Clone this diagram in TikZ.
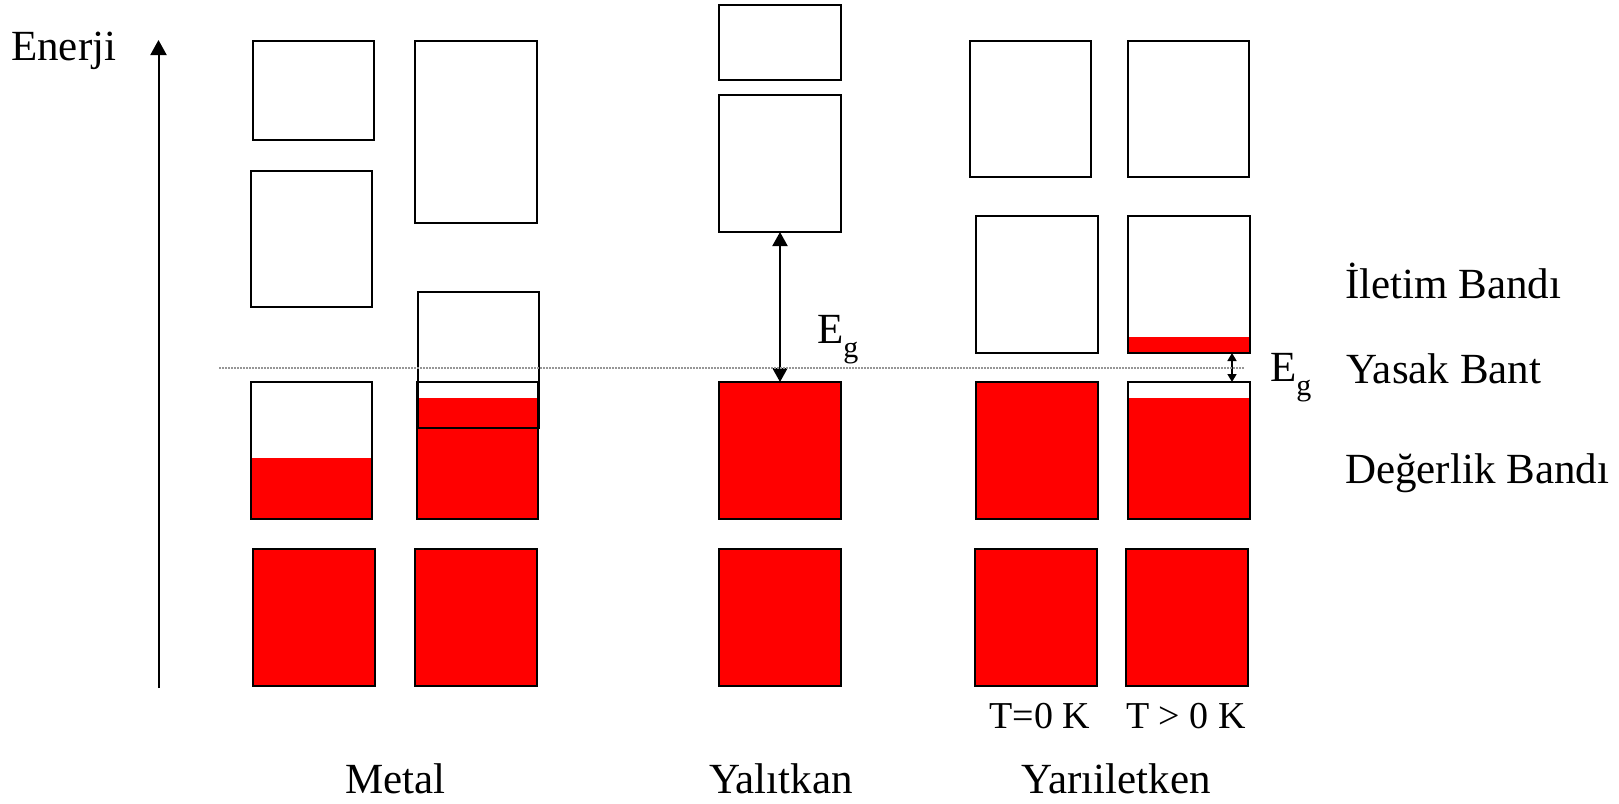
\documentclass[tikz,border=0pt]{standalone}
\usepackage{fontspec}
\setmainfont{Liberation Serif}
\usetikzlibrary{arrows.meta}
\definecolor{bandred}{RGB}{255,0,0}
\definecolor{dotgray}{RGB}{150,150,150}
\begin{document}
\begin{tikzpicture}[x=1pt,y=-1pt,
  band/.style={draw=black, line width=2pt, inner sep=0pt, outer sep=0pt},
  full/.style={band, fill=bandred},
  part/.style={band, path picture={\fill[bandred] (path picture bounding box.south west) rectangle ([yshift=#1]path picture bounding box.south east);}},
  lab/.style={inner sep=0pt, font=\fontsize{43}{45}\selectfont},
  botlab/.style={lab, text depth=0pt, text height=29pt},
  tlab/.style={inner sep=0pt, font=\fontsize{38}{40}\selectfont},
  bigarrow/.style={line width=2pt, {Triangle[width=15pt,length=14pt]}-{Triangle[width=15pt,length=14pt]}},
  smallarrow/.style={line width=1.6pt, {Triangle[width=9pt,length=8pt]}-{Triangle[width=9pt,length=8pt]}},
  axisarrow/.style={line width=2pt, -{Triangle[width=16pt,length=15pt]}},
  fermi/.style={draw=dotgray, line width=1.5pt, dash pattern=on 1.5pt off 1.5pt}
]
\useasboundingbox (0,0) rectangle (1619,803);

% energy axis
\coordinate (ax0) at (158.5,688);
\coordinate (ax1) at (158.5,40);
\draw[axisarrow] (ax0) -- (ax1);
\node[lab, anchor=base west] (enerji) at (11,60) {Enerji};

% Metal
\node[band, minimum width=121pt, minimum height=99pt]  (A1) at (313.5,90.5) {};
\node[band, minimum width=122pt, minimum height=182pt] (B1) at (476,132) {};
\node[band, minimum width=121pt, minimum height=136pt] (A2) at (311.5,239) {};
\node[part=61pt, minimum width=121pt, minimum height=137pt]  (A3) at (311.5,450.5) {};
\node[part=121pt, minimum width=121pt, minimum height=137pt] (B3) at (477.5,450.5) {};
\node[band, minimum width=121pt, minimum height=136pt] (B2) at (478,360) {};
\node[full, minimum width=122pt, minimum height=137pt] (A4) at (314,617.5) {};
\node[full, minimum width=122pt, minimum height=137pt] (B4) at (476,617.5) {};
\node[botlab, anchor=base] (metal) at (395.5,793) {Metal};

% Yalitkan
\node[band, minimum width=122pt, minimum height=75pt]  (Y1) at (780,42.5) {};
\node[band, minimum width=122pt, minimum height=137pt] (Y2) at (780,163.5) {};
\node[full, minimum width=122pt, minimum height=137pt] (Y3) at (780,450.5) {};
\node[full, minimum width=122pt, minimum height=137pt] (Y4) at (780,617.5) {};
\draw[bigarrow] (Y2.south) -- (Y3.north);
\node[lab, anchor=base west] (egy) at (817,343) {E\raisebox{-14pt}{\fontsize{30}{30}\selectfont g}};
\node[botlab, anchor=base] (yalitkan) at (781,793) {Yalıtkan};

% Yariiletken
\node[band, minimum width=121pt, minimum height=136pt] (S1) at (1030.5,109) {};
\node[band, minimum width=121pt, minimum height=136pt] (S2) at (1188.5,109) {};
\node[band, minimum width=122pt, minimum height=137pt] (S3) at (1037,284.5) {};
\node[part=16pt, minimum width=122pt, minimum height=137pt]  (S4) at (1189,284.5) {};
\node[full, minimum width=122pt, minimum height=137pt] (S5) at (1037,450.5) {};
\node[part=121pt, minimum width=122pt, minimum height=137pt] (S6) at (1189,450.5) {};
\node[full, minimum width=122pt, minimum height=137pt] (S7) at (1036,617.5) {};
\node[full, minimum width=122pt, minimum height=137pt] (S8) at (1187,617.5) {};
\draw[smallarrow] ([xshift=-18pt]S4.south east) -- ([xshift=-18pt]S6.north east);
\node[lab, anchor=base west] (egs) at (1270,381) {E\raisebox{-14pt}{\fontsize{30}{30}\selectfont g}};
\node[tlab, anchor=base] (t0) at (1040,728) {T=0 K};
\node[tlab, anchor=base] (t1) at (1186,728) {T > 0 K};
\node[botlab, anchor=base] (yari) at (1116,793) {Yarıiletken};

% band names
\node[lab, anchor=base west] (iletim) at (1345,298) {İletim Bandı};
\node[lab, anchor=base west] (yasak) at (1346,383) {Yasak Bant};
\node[lab, anchor=base west] (degerlik) at (1345,483) {Değerlik Bandı};

% Fermi level dotted line
\coordinate (f0) at (219,368);
\coordinate (f1) at (1245,368);
\draw[fermi] (f0) -- (f1);
\end{tikzpicture}
\end{document}
